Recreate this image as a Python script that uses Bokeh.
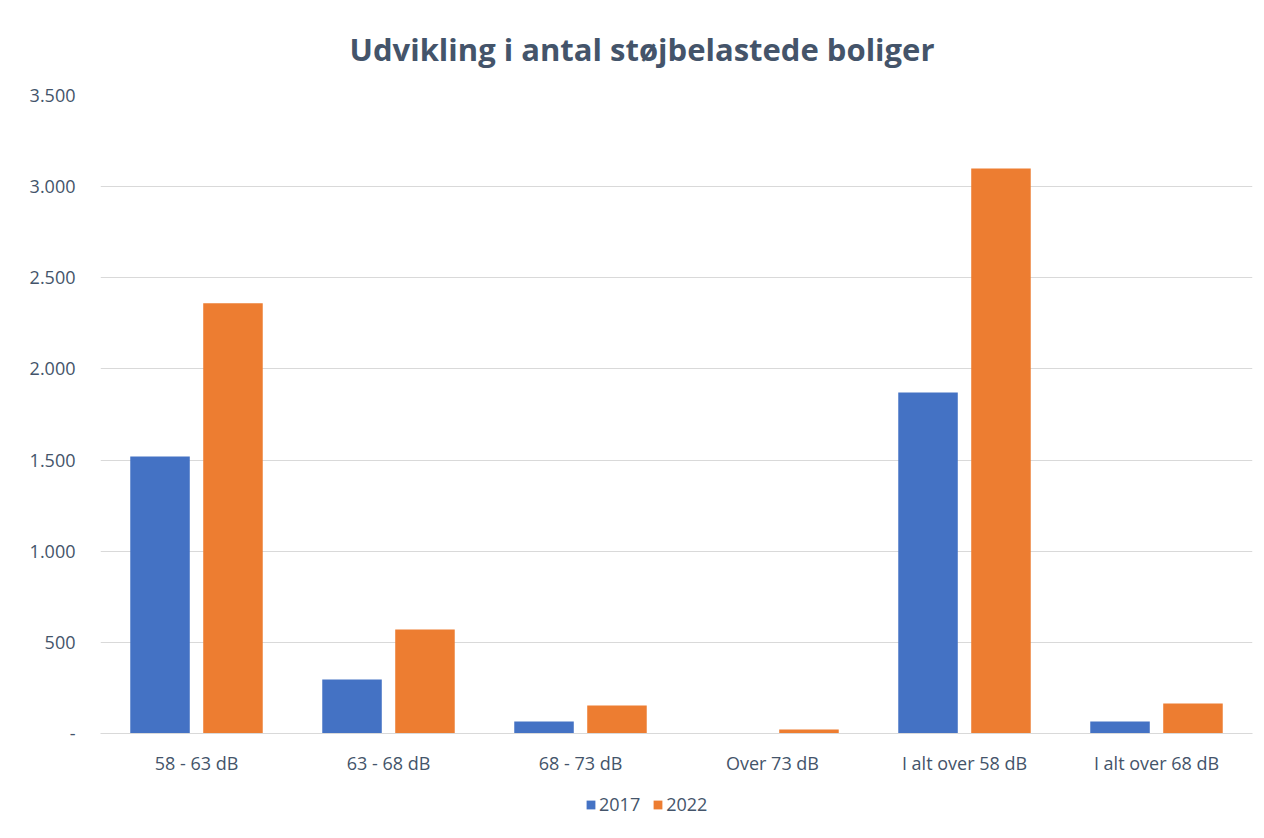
from bokeh.plotting import figure
from bokeh.layouts import column
from bokeh.models import ColumnDataSource, FactorRange, Range1d, Legend, LegendItem, CustomJSTickFormatter
from bokeh.transform import dodge
from bokeh.embed import file_html
from bokeh.resources import INLINE

categories = ["58 - 63 dB", "63 - 68 dB", "68 - 73 dB", "Over 73 dB", "I alt over 58 dB", "I alt over 68 dB"]
values_2017 = [1520, 296, 66, 0, 1871, 66]
values_2022 = [2360, 571, 154, 22, 3100, 165]
series_names = ["2017", "2022"]
y_ticks = [0, 500, 1000, 1500, 2000, 2500, 3000, 3500]

TEXT = "#44546a"
GRID = "#d9d9d9"
C2017 = "#4472c4"
C2022 = "#ed7d31"
FONT = "Open Sans"

src = ColumnDataSource(data=dict(cat=categories, v2017=values_2017, v2022=values_2022))

p = figure(frame_width=1152, frame_height=638, x_range=FactorRange(*categories, range_padding=0),
           y_range=Range1d(0, 3500), output_backend="svg", toolbar_location=None,
           min_border_left=100, min_border_right=4, min_border_bottom=48, min_border_top=95)

p.title.text = "Udvikling i antal støjbelastede boliger"
p.title.text_font = FONT
p.title.text_font_size = "31px"
p.title.text_font_style = "bold"
p.title.text_color = TEXT
p.title.align = "left"
p.title.vertical_align = "top"
p.title.offset = 249
p.title.standoff = 48

p.vbar(x=dodge("cat", -0.19, range=p.x_range), top="v2017", width=0.31, source=src,
       fill_color=C2017, line_color=None)
p.vbar(x=dodge("cat", 0.19, range=p.x_range), top="v2022", width=0.31, source=src,
       fill_color=C2022, line_color=None)

p.outline_line_color = None
p.xgrid.grid_line_color = None
p.ygrid.grid_line_color = GRID
p.ygrid.grid_line_width = 1

p.yaxis.ticker = y_ticks
p.yaxis.formatter = CustomJSTickFormatter(code="""
if (tick == 0) { return '-'; }
return tick.toString().replace(/\\B(?=(\\d{3})+(?!\\d))/g, '.');
""")
p.yaxis.axis_line_color = None
p.yaxis.major_tick_line_color = None
p.yaxis.minor_tick_line_color = None
p.yaxis.major_label_standoff = 19
p.yaxis.major_label_text_font = FONT
p.yaxis.major_label_text_font_size = "18px"
p.yaxis.major_label_text_color = TEXT

p.xaxis.axis_line_color = GRID
p.xaxis.axis_line_width = 1
p.xaxis.major_tick_line_color = None
p.xaxis.minor_tick_line_color = None
p.xaxis.major_label_standoff = 11
p.xaxis.major_label_text_font = FONT
p.xaxis.major_label_text_font_size = "18px"
p.xaxis.major_label_text_color = TEXT

# legend strip below the chart (its renderers are hidden; only the legend shows)
p2 = figure(width=1256, height=45, x_range=FactorRange(*categories), y_range=Range1d(-2, -1),
            output_backend="svg", toolbar_location=None, x_axis_location=None,
            y_axis_location=None, min_border=0)
p2.outline_line_color = None
p2.xgrid.grid_line_color = None
p2.ygrid.grid_line_color = None
l1 = p2.vbar(x="cat", top="v2017", width=0.3, source=src, fill_color=C2017, line_color=None, visible=False)
l2 = p2.vbar(x="cat", top="v2022", width=0.3, source=src, fill_color=C2022, line_color=None, visible=False)

legend = Legend(items=[LegendItem(label=series_names[0], renderers=[l1]),
                       LegendItem(label=series_names[1], renderers=[l2])],
                orientation="horizontal", location=(485, 10),
                glyph_width=11, glyph_height=11, label_height=20, label_standoff=3, spacing=12,
                label_text_font=FONT, label_text_font_size="18px",
                label_text_color=TEXT, border_line_color=None,
                inactive_fill_alpha=0,
                background_fill_alpha=0, margin=0, padding=0)
p2.add_layout(legend, "center")

open("out.html", "w").write(file_html(column(p, p2, spacing=0), INLINE))
